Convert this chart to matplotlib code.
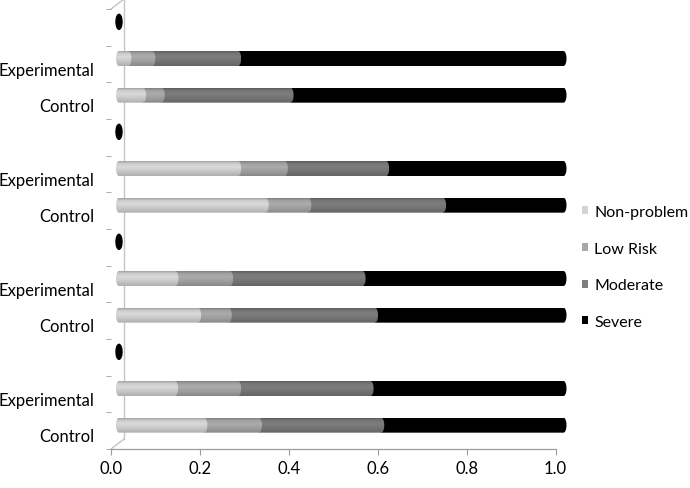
"""
Stacked horizontal 'cylinder' bars: risk category shares for Control vs
Experimental groups, drawn in a flat imitation of a 3-D spreadsheet chart.
"""

import numpy as np
import matplotlib
matplotlib.use("Agg")
import matplotlib.pyplot as plt
from matplotlib.patches import Polygon, Ellipse, Patch
from matplotlib.colors import to_rgb

plt.rcParams["font.family"] = ["Lato", "DejaVu Sans"]

# ---------------------------------------------------------------------------
# Data (bottom -> top; the blank rows are the gaps between the groups)
# ---------------------------------------------------------------------------
categories = ["Control", "Experimental", "",
              "Control", "Experimental", "",
              "Control", "Experimental", "",
              "Control", "Experimental", ""]
series = ["Non-problem", "Low Risk", "Moderate", "Severe"]

non_problem = [0.192, 0.126, 0, 0.178, 0.127, 0, 0.330, 0.268, 0, 0.054, 0.021, 0]
low_risk    = [0.123, 0.142, 0, 0.069, 0.123, 0, 0.096, 0.105, 0, 0.042, 0.054, 0]
moderate    = [0.275, 0.298, 0, 0.329, 0.298, 0, 0.303, 0.228, 0, 0.290, 0.193, 0]
severe      = [0.410, 0.434, 0, 0.424, 0.452, 0, 0.271, 0.399, 0, 0.614, 0.732, 0]

x_ticks = [0.0, 0.2, 0.4, 0.6, 0.8, 1.0]
x_tick_labels = ["0.0", "0.2", "0.4", "0.6", "0.8", "1.0"]

# ---------------------------------------------------------------------------
# Style
# ---------------------------------------------------------------------------
BAR_COLOURS    = ["#c6c6c6", "#9c9c9c", "#727272", "#000000"]
LEGEND_COLOURS = ["#d4d4d4", "#a8a8a8", "#808080", "#000000"]
AXIS_GREY = "#9d9d9d"
WALL_GREY = "#c4c4c4"
FONT_SIZE = 12
LEGEND_SIZE = 11.5

PX_X = 444.5          # pixels per unit on the value axis
PX_Y = 36.67          # pixels per category
DX = 8.0 / PX_X       # depth shift of the bars (x)
DY = 5.5 / PX_Y       # depth shift of the bars (y)
WALL_X = 13.0 / PX_X  # back wall offset
WALL_Y = 10.0 / PX_Y
BAR_H = 15.0 / PX_Y
CAP = 3.0 / PX_X      # half width of the cylinder end cap


def _shade(colour, n=40):
    t = np.linspace(0, 1, n)  # bottom -> top
    prof = np.interp(t, [0, 0.3, 0.62, 0.85, 1.0], [0.88, 1.0, 1.10, 1.03, 0.82])
    rgb = np.clip(np.outer(prof, to_rgb(colour)), 0, 1)
    return rgb[:, None, :]


def _outline(x0, x1, yc, first):
    b = BAR_H / 2
    th = np.linspace(-np.pi / 2, np.pi / 2, 40)
    right = np.column_stack([x1 + CAP * np.cos(th), yc + b * np.sin(th)])
    if first:
        th2 = np.linspace(np.pi / 2, 3 * np.pi / 2, 40)
        left = np.column_stack([x0 + CAP * np.cos(th2), yc + b * np.sin(th2)])
    else:
        left = np.array([[x0, yc + b], [x0, yc - b]])
    return np.vstack([right, left])


fig = plt.figure(figsize=(6.9, 4.89), dpi=100)
ax = fig.add_axes([111 / 690, 39 / 489, 462 / 690, 440 / 489])

# ---- back wall lines ------------------------------------------------------
top = 11.5 + WALL_Y
ax.plot([WALL_X, WALL_X], [-0.5 + WALL_Y, top], color=WALL_GREY, lw=1, zorder=1, clip_on=False)
ax.plot([0, WALL_X], [-0.5, -0.5 + WALL_Y], color=WALL_GREY, lw=1, zorder=1, clip_on=False)
ax.plot([0, WALL_X], [11.5, top], color=WALL_GREY, lw=1, zorder=1, clip_on=False)

# ---- bars -----------------------------------------------------------------
values = np.array([non_problem, low_risk, moderate, severe])
starts = np.vstack([np.zeros(len(categories)), np.cumsum(values, axis=0)[:-1]])

for i in range(len(categories)):
    yc = i + DY
    if values[:, i].sum() == 0:
        ax.add_patch(Ellipse((starts[0, i] + DX, yc), 2 * CAP, BAR_H,
                             color=BAR_COLOURS[-1], zorder=3))
        continue
    for s in range(len(series) - 1, -1, -1):
        w = values[s, i]
        if w <= 0:
            continue
        x0 = starts[s, i] + DX
        x1 = x0 + w
        poly = Polygon(_outline(x0, x1, yc, s == 0), closed=True, transform=ax.transData)
        im = ax.imshow(_shade(BAR_COLOURS[s]), origin="lower", aspect="auto",
                       interpolation="bilinear",
                       extent=[x0 - CAP, x1 + CAP, yc - BAR_H / 2, yc + BAR_H / 2],
                       zorder=3 + (len(series) - s) * 0.01)
        im.set_clip_path(poly)

ax.set_xlim(0, 462 / PX_X)
ax.set_ylim(-0.5, 11.5)

# ---- axes -----------------------------------------------------------------
for side in ("top", "right", "left"):
    ax.spines[side].set_visible(False)
ax.spines["bottom"].set_bounds(0, 1)
ax.spines["bottom"].set_color(AXIS_GREY)
ax.spines["bottom"].set_linewidth(0.9)

ax.set_xticks(x_ticks)
ax.set_xticklabels(x_tick_labels)
ax.tick_params(axis="x", direction="out", length=4, color=AXIS_GREY,
               labelsize=FONT_SIZE, pad=4)

ax.set_yticks(np.arange(len(categories)) - 0.11)
ax.set_yticklabels(categories)
ax.set_yticks(np.arange(-0.5, len(categories)), minor=True)
ax.tick_params(axis="y", which="major", length=0, labelsize=FONT_SIZE, pad=12)
ax.tick_params(axis="y", which="minor", length=3.5, color=AXIS_GREY, direction="out")

# ---- legend ---------------------------------------------------------------
handles = [Patch(facecolor=c, edgecolor="none") for c in LEGEND_COLOURS]
fig.legend(handles, series, loc="upper left",
           bbox_to_anchor=(582 / 690, 1 - 206 / 489), frameon=False,
           fontsize=LEGEND_SIZE, handlelength=0.38, handleheight=0.38,
           handletextpad=0.4, labelspacing=1.42, borderpad=0, borderaxespad=0)

fig.savefig("out.png", dpi=100)
